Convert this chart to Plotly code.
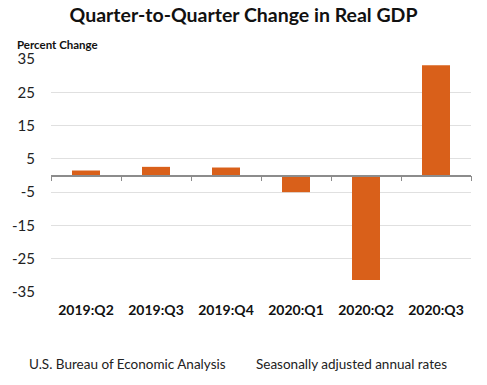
import plotly.graph_objects as go

quarters = ["2019:Q2", "2019:Q3", "2019:Q4", "2020:Q1", "2020:Q2", "2020:Q3"]
pct_change = [1.5, 2.6, 2.4, -5.0, -31.4, 33.1]
y_ticks = [-35, -25, -15, -5, 5, 15, 25, 35]

FONT = "Lato"
BAR = "#D9601A"

fig = go.Figure()
fig.add_trace(go.Bar(x=quarters, y=pct_change, marker=dict(color=BAR, line=dict(width=0)),
                     width=0.4, showlegend=False))
# helper trace so the zero-line axis knows the categories
fig.add_trace(go.Scatter(x=quarters, y=pct_change, xaxis="x2", mode="markers",
                         marker=dict(opacity=0), showlegend=False, hoverinfo="skip"))

fig.update_layout(
    width=487, height=385,
    margin=dict(l=49, r=16, t=59, b=93),
    paper_bgcolor="white", plot_bgcolor="white",
    font=dict(family=FONT, color="#222222"),
    title=dict(text="<b>Quarter-to-Quarter Change in Real GDP</b>", x=0.5, xanchor="center",
               y=0.961, yanchor="middle", font=dict(size=19.5, color="#111111")),
    xaxis=dict(type="category", categoryorder="array", categoryarray=quarters,
               showline=False, ticks="", showgrid=False,
               tickfont=dict(size=14, color="#111111", family=FONT, weight="bold"),
               ticklabelstandoff=8),
    xaxis2=dict(type="category", categoryorder="array", categoryarray=quarters,
                overlaying="x", matches="x", anchor="free", position=0.5,
                showline=True, linecolor="#8c8c8c", linewidth=1.5,
                ticks="outside", tickson="boundaries", ticklen=5, tickcolor="#8c8c8c",
                tickwidth=1, showticklabels=False, showgrid=False),
    yaxis=dict(range=[-35, 35], tickvals=y_ticks, ticktext=[str(v) for v in y_ticks],
               showgrid=True, gridcolor="#e0e0e0", gridwidth=1, zeroline=False,
               showline=False, ticks="", ticklabelstandoff=15,
               tickfont=dict(size=15, color="#222222", family=FONT)),
    annotations=[
        dict(text="<b>Percent Change</b>", xref="paper", yref="paper", x=(13 - 49) / 422,
             y=1.0, yshift=15, xanchor="left", yanchor="middle", showarrow=False,
             font=dict(size=11.5, color="#111111", family=FONT)),
        dict(text="U.S. Bureau of Economic Analysis", xref="paper", yref="paper",
             x=(25 - 49) / 422, y=0, yshift=-72, xanchor="left", yanchor="middle",
             showarrow=False, font=dict(size=13.5, color="#222222", family=FONT)),
        dict(text="Seasonally adjusted annual rates", xref="paper", yref="paper",
             x=(253 - 49) / 422, y=0, yshift=-72, xanchor="left", yanchor="middle",
             showarrow=False, font=dict(size=13.5, color="#222222", family=FONT)),
    ],
)

fig.write_html("out.html", config={"displayModeBar": False},
               post_script="document.body.style.margin='0';")
